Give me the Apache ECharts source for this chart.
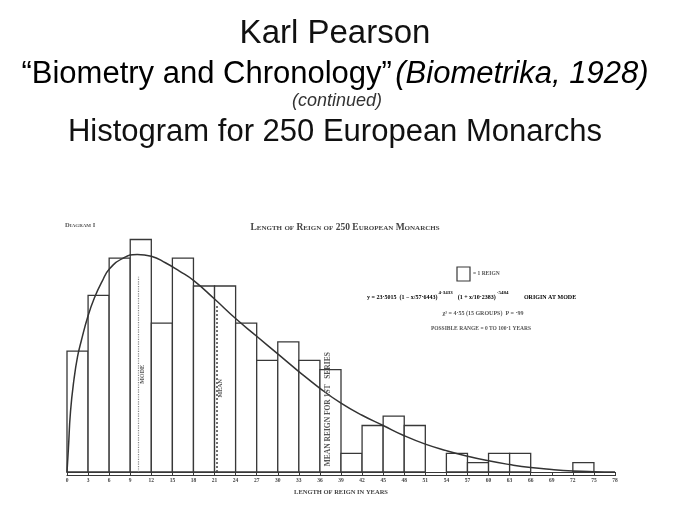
<!DOCTYPE html>
<html>
<head>
<meta charset="utf-8">
<script src="https://cdn.jsdelivr.net/npm/echarts@6/dist/echarts.min.js"></script>
<style>
html, body { margin: 0; padding: 0; background: #fff; }
#box { width: 686px; height: 520px; }
</style>
</head>
<body>
<div id="box"></div>
<script>
// histogram: bins of 3 years, number of reigns in each
const binWidth = 3;
const binStarts = [0, 3, 6, 9, 12, 15, 18, 21, 24, 27, 30, 33, 36, 39, 42, 45, 48, 51, 54, 57, 60, 63, 66, 69, 72, 75];
const reignCounts = [13, 19, 23, 25, 16, 23, 20, 20, 16, 12, 14, 12, 11, 2, 5, 6, 5, 0, 2, 1, 2, 2, 0, 0, 1, 0];

// fitted curve
const curveYears = [0, 0.2, 0.5, 1, 1.5, 2, 3, 4, 5, 6, 8, 10, 12, 14, 16, 18, 21, 24, 27, 30, 33, 36, 39, 42, 45, 48, 51, 54, 57, 60, 63, 66, 69, 72, 75, 78];
const curveValues = [0, 2.5, 6.5, 10, 12.4, 14, 16.8, 18.9, 20.5, 21.8, 23.0, 23.4, 23.2, 22.5, 21.6, 20.6, 18.6, 16.5, 14.6, 12.7, 10.8, 9.0, 7.4, 6.1, 5.0, 3.9, 3.0, 2.3, 1.7, 1.2, 0.8, 0.48, 0.27, 0.12, 0.04, 0];

const tickYears = [0, 3, 6, 9, 12, 15, 18, 21, 24, 27, 30, 33, 36, 39, 42, 45, 48, 51, 54, 57, 60, 63, 66, 69, 72, 75, 78];

// [year, height] of the vertical marker lines
const modeLine = [10.2, 21];
const meanLine = [21.3, 18];
const firstSeriesNote = [36.5, 13.5];

const ink = '#383838';
const serif = '"Liberation Serif", "DejaVu Serif", serif';
const sans = '"Liberation Sans", Arial, sans-serif';

const barData = binStarts.map((s, i) => [s, reignCounts[i]]);
const curveData = curveYears.map((x, i) => [x, curveValues[i]]);

const myChart = echarts.init(document.getElementById('box'));

const option = {
    backgroundColor: '#fff',
    animation: false,
    grid: { left: 67, right: 71, top: 239.5, bottom: 48 },
    xAxis: [{
        type: 'value',
        min: tickYears[0],
        max: tickYears[tickYears.length - 1],
        interval: 3,
        splitLine: { show: false },
        axisLine: { lineStyle: { color: ink, width: 1.2 } },
        axisTick: { length: 4, lineStyle: { color: ink, width: 1 }, customValues: tickYears },
        axisLabel: { margin: 6, fontSize: 5.5, fontWeight: 'bold', color: '#444', fontFamily: serif, customValues: tickYears },
        name: 'LENGTH OF REIGN IN YEARS',
        nameLocation: 'middle',
        nameGap: 17,
        nameTextStyle: { fontSize: 6.5, fontWeight: 'bold', color: '#444', fontFamily: serif },
    }, {
        type: 'value',
        min: tickYears[0],
        max: tickYears[tickYears.length - 1],
        position: 'bottom',
        offset: 3,
        splitLine: { show: false },
        axisLine: { lineStyle: { color: ink, width: 1.2 } },
        axisTick: { show: false },
        axisLabel: { show: false },
    }],
    yAxis: { type: 'value', min: 0, max: 25, show: false },
    series: [{
        type: 'custom',
        data: barData,
        encode: { x: 0, y: 1 },
        renderItem(params, api){
            const x0 = api.value(0), n = api.value(1);
            if (!n) return null;
            const p0 = api.coord([x0, n]);
            const p1 = api.coord([x0 + binWidth, 0]);
            return {
                type: 'rect',
                shape: { x: p0[0], y: p0[1], width: p1[0] - p0[0], height: p1[1] - p0[1] },
                style: { fill: '#fff', stroke: ink, lineWidth: 1.3 },
            };
        },
    }, {
        type: 'line',
        data: curveData,
        smooth: 0.5,
        showSymbol: false,
        lineStyle: { color: '#333', width: 1.5 },
        markLine: {
            symbol: 'none',
            silent: true,
            label: { position: 'insideMiddleBottom', distance: 1, fontSize: 6, color: '#555', fontFamily: serif, fontWeight: 'bold' },
            data: [
                [{ coord: [modeLine[0], 0], lineStyle: { type: 'dotted', color: '#888', width: 1.2 }, label: { formatter: 'MODE' } },
                 { coord: [modeLine[0], modeLine[1]] }],
                [{ coord: [meanLine[0], 0], lineStyle: { type: [2, 2], color: '#444', width: 1.5 }, label: { formatter: 'MEAN' } },
                 { coord: [meanLine[0], meanLine[1]] }],
                [{ coord: [firstSeriesNote[0], 0], lineStyle: { color: 'rgba(0,0,0,0)', width: 0 }, label: { formatter: 'MEAN REIGN FOR 1ST   SERIES', fontSize: 7.5 } },
                 { coord: [firstSeriesNote[0], firstSeriesNote[1]] }],
            ],
        },
    }],
    graphic: [
        { type: 'text', style: { x: 335, y: 34, text: 'Karl Pearson', textAlign: 'center', textVerticalAlign: 'middle', fontSize: 33, fontFamily: sans, fill: '#111' } },
        { type: 'text', style: {
            x: 335, y: 74, textAlign: 'center', textVerticalAlign: 'middle',
            text: '{n|“Biometry and Chronology”} {i|(Biometrika, 1928)}',
            rich: {
                n: { fontSize: 31, fontFamily: sans, color: '#111' },
                i: { fontSize: 31, fontFamily: sans, fontStyle: 'italic', color: '#111' },
            },
        } },
        { type: 'text', style: { x: 337, y: 101, text: '(continued)', textAlign: 'center', textVerticalAlign: 'middle', fontSize: 18, fontStyle: 'italic', fontFamily: sans, fill: '#333' } },
        { type: 'text', style: { x: 335, y: 132, text: 'Histogram for 250 European Monarchs', textAlign: 'center', textVerticalAlign: 'middle', fontSize: 31, fontFamily: sans, fill: '#111' } },

        { type: 'text', style: { x: 65, y: 225, text: 'Diagram I', textVerticalAlign: 'middle', font: 'small-caps bold 6.5px "Liberation Serif"', fill: '#555' } },
        { type: 'text', style: { x: 345, y: 228, text: 'Length of Reign of 250 European Monarchs', textAlign: 'center', textVerticalAlign: 'middle', font: 'small-caps bold 9.5px "Liberation Serif"', fill: '#444' } },

        { type: 'rect', shape: { x: 457, y: 267, width: 13, height: 14 }, style: { fill: 'none', stroke: ink, lineWidth: 1.2 } },
        { type: 'text', style: { x: 473, y: 274, text: '= 1 REIGN', textVerticalAlign: 'middle', fontSize: 5.5, fontWeight: 'bold', fontFamily: serif, fill: '#555' } },
        { type: 'text', style: {
            x: 367, y: 297, textVerticalAlign: 'middle',
            text: '{t|y = 23·5015  (1 − }{t|x/57·6443}{t|)}{s|4·3433}{t|  (1 + }{t|x/10·2383}{t|)}{s|·5484}{t|         ORIGIN AT MODE}',
            rich: {
                t: { fontSize: 6, fontWeight: 'bold', fontFamily: serif, color: '#555' },
                s: { fontSize: 5, fontWeight: 'bold', fontFamily: serif, color: '#555', padding: [0, 2, 9, 1] },
            },
        } },
        { type: 'text', style: { x: 483, y: 313, text: 'χ² = 4·55 (15 GROUPS)  P = ·99', textAlign: 'center', textVerticalAlign: 'middle', fontSize: 6, fontWeight: 'bold', fontFamily: serif, fill: '#555' } },
        { type: 'text', style: { x: 481, y: 329, text: 'POSSIBLE RANGE = 0 TO 100·1 YEARS', textAlign: 'center', textVerticalAlign: 'middle', fontSize: 5.5, fontWeight: 'bold', fontFamily: serif, fill: '#555' } },
    ],
};

myChart.setOption(option);
</script>
</body>
</html>
